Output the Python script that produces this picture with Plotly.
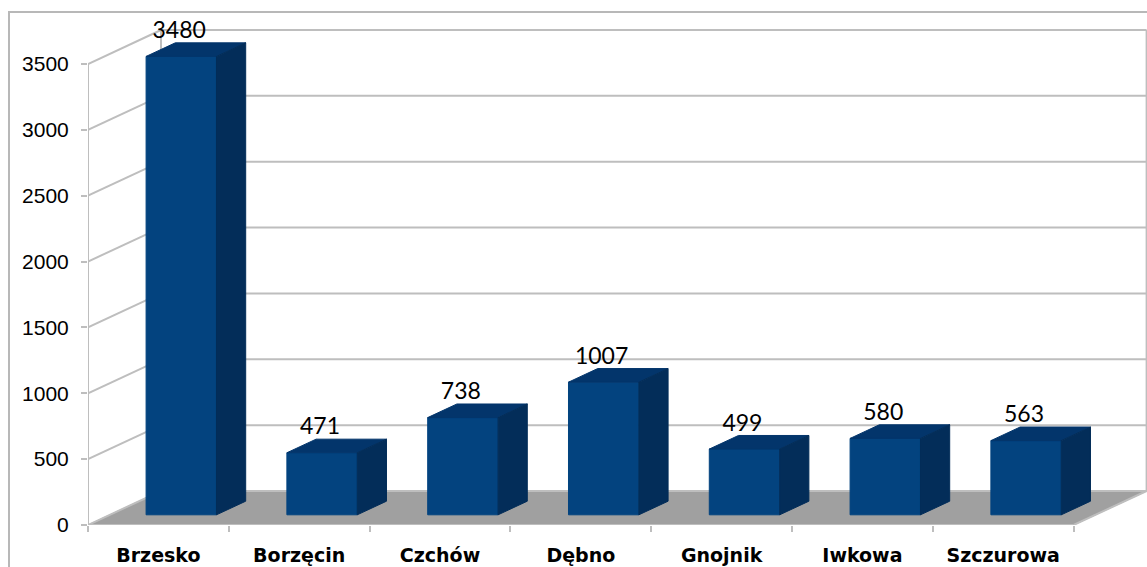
import plotly.graph_objects as go

categories = ["Brzesko", "Borzęcin", "Czchów", "Dębno", "Gnojnik", "Iwkowa", "Szczurowa"]
values = [3480, 471, 738, 1007, 499, 580, 563]
y_ticks = [0, 500, 1000, 1500, 2000, 2500, 3000, 3500]

# pixel geometry of the oblique projection
LEFT, ZERO_Y, RIGHT_PAGE, TOP, W, H = 88, 525, 1147, 12, 1147, 567
CAT_PX = 140.8
VAL_PX = 461 / 3500
DEPTH_X = 73 / CAT_PX      # category units at full wall depth
DEPTH_Y = 34 / VAL_PX      # value units at full wall depth
BAR_W = 0.5
BAR_SHIFT = 0.007
BAR_D0, BAR_D1 = 0.3, 0.7
N = len(categories)


def proj(c, v, d=0.0):
    return c + d * DEPTH_X, v + d * DEPTH_Y


def poly(points):
    xs, ys = zip(*[proj(*p) for p in points])
    return list(xs) + [xs[0], None], list(ys) + [ys[0], None]


def add_polys(fig, polys, color):
    xs, ys = [], []
    for p in polys:
        a, b = poly(p)
        xs += a
        ys += b
    fig.add_trace(go.Scatter(x=xs, y=ys, mode="lines", fill="toself", fillcolor=color,
                             line=dict(color=color, width=1), hoverinfo="skip",
                             showlegend=False, cliponaxis=False))


def add_lines(fig, segs, color="#BEBEBE", width=2):
    xs, ys = [], []
    for a, b in segs:
        p, q = proj(*a), proj(*b)
        xs += [p[0], q[0], None]
        ys += [p[1], q[1], None]
    fig.add_trace(go.Scatter(x=xs, y=ys, mode="lines", line=dict(color=color, width=width),
                             hoverinfo="skip", showlegend=False, cliponaxis=False))


fig = go.Figure()

# floor
add_polys(fig, [[(0, 0, 0), (N, 0, 0), (N, 0, 1), (0, 0, 1)]], "#A0A0A0")

# walls
wall = []
for t in y_ticks:
    wall.append(((0, t, 0), (0, t, 1)))
    wall.append(((0, t, 1), (N, t, 1)))
wall.append(((0, 0, 0), (0, y_ticks[-1], 0)))
wall.append(((0, 0, 1), (0, y_ticks[-1], 1)))
wall.append(((N, 0, 1), (N, y_ticks[-1], 1)))
wall.append(((0, 0, 0), (N, 0, 0)))
wall.append(((N, 0, 0), (N, 0, 1)))
add_lines(fig, wall)

# bars
fronts, tops, sides = [], [], []
for i, v in enumerate(values):
    a, b = i + 0.5 + BAR_SHIFT - BAR_W / 2, i + 0.5 + BAR_SHIFT + BAR_W / 2
    fronts.append([(a, 0, BAR_D0), (b, 0, BAR_D0), (b, v, BAR_D0), (a, v, BAR_D0)])
    tops.append([(a, v, BAR_D0), (b, v, BAR_D0), (b, v, BAR_D1), (a, v, BAR_D1)])
    sides.append([(b, 0, BAR_D0), (b, 0, BAR_D1), (b, v, BAR_D1), (b, v, BAR_D0)])
add_polys(fig, fronts, "#03437F")
add_polys(fig, tops, "#03356B")
add_polys(fig, sides, "#032D59")

# value labels
lx, ly = zip(*[proj(i + 0.5, v, BAR_D1) for i, v in enumerate(values)])
fig.add_trace(go.Scatter(x=[x - 0.215 for x in lx], y=[y - 8 for y in ly], mode="text",
                         text=[str(v) for v in values], textposition="top center",
                         textfont=dict(family="Lato, Carlito, sans-serif", size=23, color="#000000"),
                         hoverinfo="skip", showlegend=False, cliponaxis=False))

fig.update_layout(
    width=W, height=H,
    margin=dict(l=LEFT, r=0, t=TOP, b=H - ZERO_Y, pad=0),
    plot_bgcolor="#FFFFFF", paper_bgcolor="#FFFFFF", showlegend=False,
    xaxis=dict(range=[0, (RIGHT_PAGE - LEFT) / CAT_PX], showgrid=False, zeroline=False, showline=False,
               tickmode="array", tickvals=[i + 0.5 for i in range(N)],
               ticktext=[f"<b>{c}</b>" for c in categories], ticks="", ticklabelstandoff=17,
               tickfont=dict(family="DejaVu Sans", size=19, color="#000000"), tickangle=0,
               minor=dict(tickmode="array", tickvals=list(range(N + 1)), ticks="outside", ticklen=6,
                          tickwidth=2, tickcolor="#BEBEBE", showgrid=False)),
    yaxis=dict(range=[0, (ZERO_Y - TOP) / VAL_PX], showgrid=False, zeroline=False, showline=False,
               tickmode="array", tickvals=y_ticks, ticktext=[str(t) for t in y_ticks],
               ticks="outside", ticklen=6, tickwidth=2, tickcolor="#BEBEBE", ticklabelstandoff=8,
               tickfont=dict(family="Liberation Sans", size=21, color="#000000")),
    shapes=[dict(type="rect", xref="paper", yref="paper", layer="below",
                 x0=(9 - LEFT) / (RIGHT_PAGE - LEFT), x1=1.01, y0=-(H - ZERO_Y) / (ZERO_Y - TOP) - 0.02, y1=1,
                 line=dict(color="#B8B8B8", width=2), fillcolor="rgba(0,0,0,0)")],
)

fig.write_html("out.html", config={"displayModeBar": False},
               post_script="document.body.style.margin='0';document.body.style.overflow='hidden';")
